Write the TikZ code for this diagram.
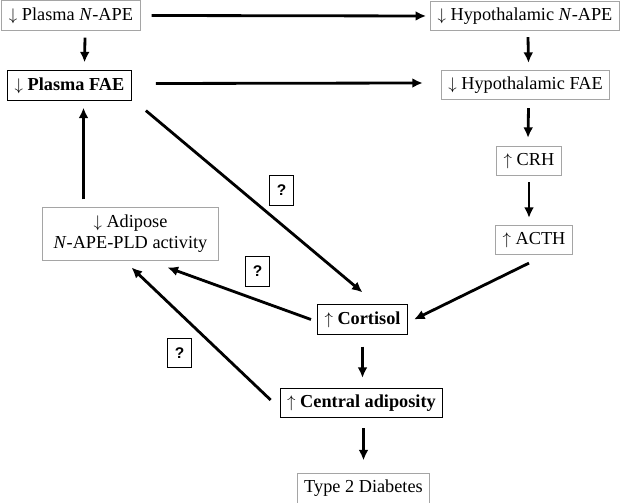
\documentclass[tikz,border=0pt]{standalone}
\usepackage{fontspec}
\setmainfont{Liberation Serif}
\newfontfamily\qfont{Liberation Sans}
\usepackage{tikz}
\usetikzlibrary{arrows.meta,calc}
\definecolor{boxgray}{RGB}{165,165,165}

\begin{document}
\begin{tikzpicture}[x=0.025cm, y=-0.025cm,
    font=\fontsize{13}{15}\selectfont,
    >={Latex[length=7.5pt,width=7pt]},
    gbox/.style={draw=boxgray, line width=0.7pt, minimum height=0.73cm, inner xsep=5pt},
    bbox/.style={draw=black, line width=0.7pt, minimum height=0.73cm, inner xsep=5pt, font=\fontsize{13}{15}\selectfont\bfseries},
    qbox/.style={draw=black, line width=0.7pt, minimum width=0.62cm, minimum height=0.74cm, inner sep=0pt, font=\fontsize{11}{13}\selectfont\qfont\bfseries},
    link/.style={draw, ->, line width=2pt}]
    \useasboundingbox (0,0) rectangle (625,503);
    \node[gbox] (PNAPE) at (71,15.5) {$\downarrow$ Plasma \textit{N}-APE};
    \node[bbox] (PFAE) at (69.5,85.5) {$\downarrow$ Plasma FAE};
    \node[gbox] (HNAPE) at (525,16) {$\downarrow$ Hypothalamic \textit{N}-APE};
    \node[gbox] (HFAE) at (525.5,85) {$\downarrow$ Hypothalamic FAE};
    \node[gbox] (CRH) at (529,161) {$\uparrow$ CRH};
    \node[gbox] (ACTH) at (534,240) {$\uparrow$ ACTH};
    \node[gbox, align=center, minimum height=1.3cm, inner xsep=8pt] (Adipose) at (130.5,234) {$\downarrow$ Adipose\\\textit{N}-APE-PLD activity};
    \node[bbox] (Cortisol) at (362.5,319.5) {$\uparrow$ Cortisol};
    \node[bbox] (Central) at (361.5,403) {$\uparrow$ Central adiposity};
    \node[gbox] (T2D) at (363.5,488.5) {Type 2 Diabetes};
    \node[qbox] (q1) at (281.5,190.5) {?};
    \node[qbox] (q2) at (257.5,271.5) {?};
    \node[qbox] (q3) at (179.5,353) {?};
    % top rows
    \path[link] ($(PNAPE.east)+(11,0)$) -- ($(HNAPE.west)+(-4,0)$);
    \path[link] ($(PFAE.east)+(24,-2)$) -- ($(HFAE.west)+(-18,-2)$);
    \path[link] ($(PNAPE.south)+(14,7)$) -- ($(PFAE.north)+(15,-8)$);
    \path[link] ($(HNAPE.south)+(3,6)$) -- ($(HFAE.north)+(3,-7)$);
    % HPA axis
    \path[link] ($(HFAE.south)+(3,8)$) -- ($(CRH.north)+(-1,-8)$);
    \path[link] ($(CRH.south)+(0,6)$) -- ($(ACTH.north)+(-5,-7)$);
    \path[link] ($(ACTH.south)+(-5,8)$) -- ($(Cortisol.east)+(6,0)$);
    \path[link] ($(PFAE.south east)+(14,10)$) -- ($(Cortisol.north)+(0,-12)$);
    % feedback to adipose
    \path[link] ($(Cortisol.west)+(-6,0)$) -- ($(Adipose.south)+(37,7)$);
    \path[link] ($(Central.west)+(-9,-3)$) -- ($(Adipose.south)+(1,7)$);
    \path[link] ($(Adipose.north)+(-47,-8)$) -- ($(PFAE.south)+(14,7)$);
    % outcome
    \path[link] ($(Cortisol.south)+(0,12)$) -- ($(Central.north)+(1,-10)$);
    \path[link] ($(Central.south)+(2,10)$) -- ($(T2D.north)+(0,-13)$);
\end{tikzpicture}
\end{document}
